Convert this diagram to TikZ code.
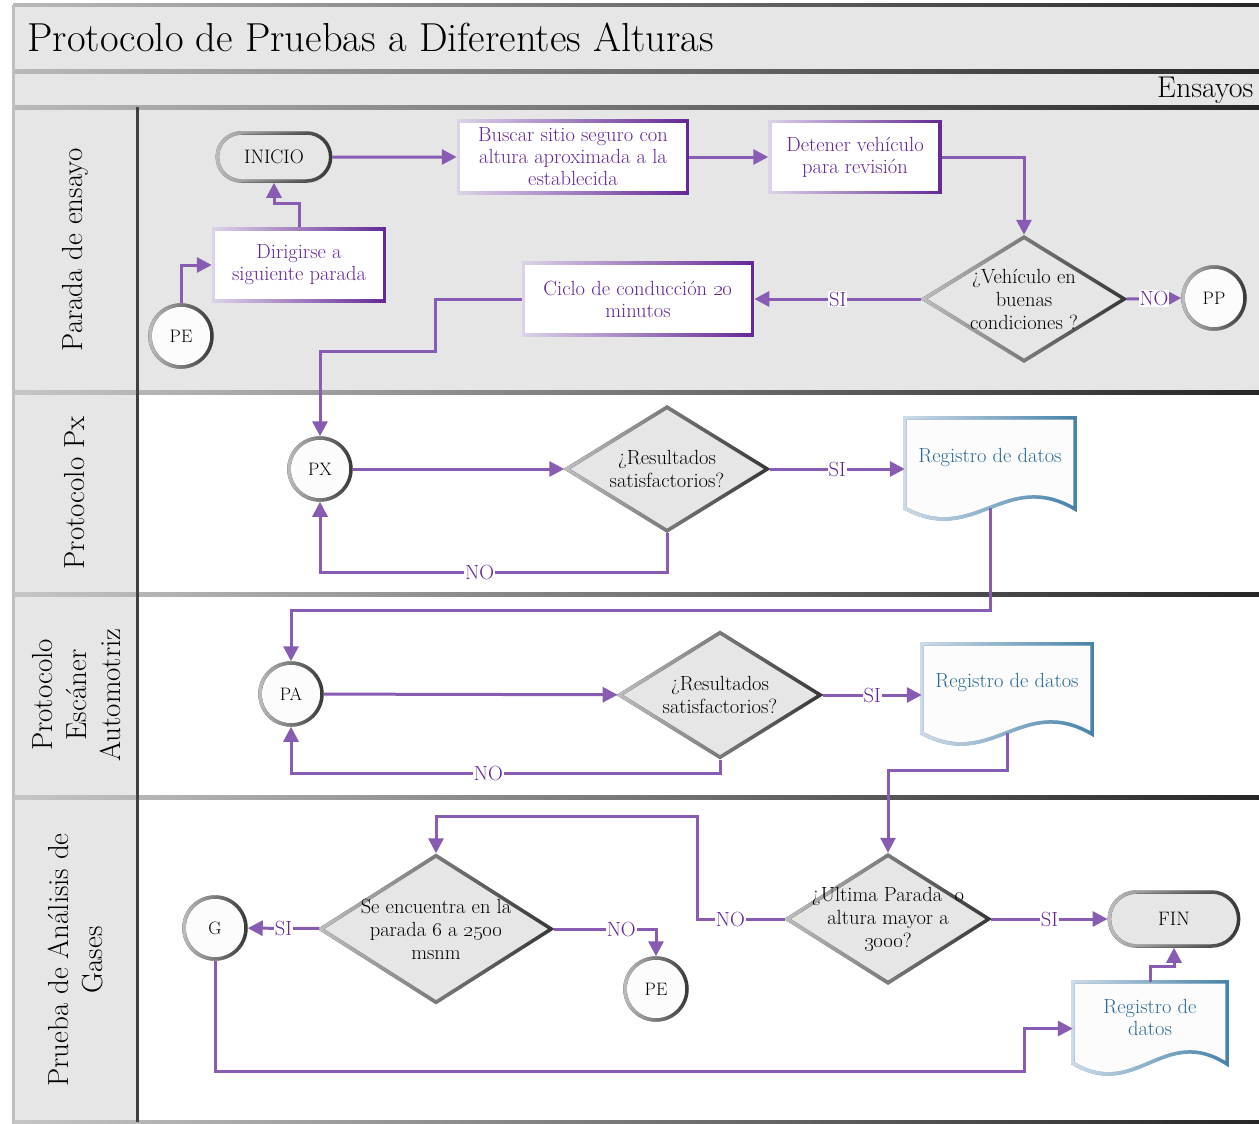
\documentclass[tikz,border=0pt]{standalone}
\usetikzlibrary{arrows.meta,shapes.geometric,shapes.misc,calc,fadings}

\definecolor{lanegray}{HTML}{E6E6E6}
\definecolor{flow}{RGB}{135,92,178}
\definecolor{ptext}{RGB}{98,38,148}
\definecolor{pdark}{RGB}{100,40,150}
\definecolor{plight}{RGB}{222,212,234}
\definecolor{gdark}{RGB}{55,55,55}
\definecolor{glight}{RGB}{190,190,190}
\definecolor{bdark}{RGB}{70,130,170}
\definecolor{blight}{RGB}{208,220,232}
\definecolor{btext}{RGB}{42,104,148}
\definecolor{paper}{RGB}{252,252,252}

\newcommand{\zl}[1]{\makebox[0pt][c]{#1}}

\tikzset{
  purpleedge/.style={draw=pdark, postaction={draw=plight, path fading=east}},
  grayedge/.style={draw=gdark, postaction={draw=glight, path fading=east}},
  blueedge/.style={draw=bdark, postaction={draw=blight, path fading=east}},
  procbox/.style={rectangle, fill=white, purpleedge, line width=3.5pt,
    text=ptext, align=center, inner sep=2pt},
  termbox/.style={rounded rectangle, fill=lanegray, grayedge, line width=3.5pt,
    minimum width=120pt, minimum height=48pt, text=black,
    font=\fontsize{19.5}{22}\selectfont},
  decbox/.style={diamond, fill=lanegray, grayedge, line width=3.5pt,
    inner sep=0pt, align=center, text=black,
    font=\fontsize{20.5}{23}\selectfont},
  conn/.style={circle, fill=paper, grayedge, line width=3.5pt,
    minimum size=62pt, inner sep=0pt, text=black,
    font=\fontsize{18}{20}\selectfont},
  docbox/.style={rectangle, draw=none, inner sep=0pt, text=btext, align=center},
  flowline/.style={draw=flow, line width=3pt,
    -{Triangle[length=15pt,width=15pt]}},
  lbl/.style={fill=white, text=ptext, inner sep=1pt},
  lanetitle/.style={rotate=90, align=center, text=black,
    font=\fontsize{29}{34}\selectfont},
}

% document outline with a wavy lower edge, built on a node's box
\newcommand{\docpath}[1]{%
  (#1.north west) -- (#1.north east) -- ($(#1.south east)+(0,1)$)
  .. controls ($(#1.south west)!0.59!(#1.south east)+(0,-40)$)
  and ($(#1.south west)!0.41!(#1.south east)+(0,38)$) .. (#1.south west) -- cycle}

\begin{document}
\begin{tikzpicture}[x=1pt, y=-1pt, font=\fontsize{20.5}{22}\selectfont]
\useasboundingbox (0,0) rectangle (1259,1124);
\fill[white] (0,0) rectangle (1259,1124);

% bands and lanes
\fill[lanegray] (13,5) rectangle (1259,107);
\fill[lanegray] (13,107) rectangle (1259,392);
\fill[lanegray] (13,392) rectangle (138,1122);

\shade[left color=gray!55, right color=black!85] (13,4) rectangle (1259,7);
\shade[left color=gray!55, right color=black!85] (13,70) rectangle (1259,74);
\shade[left color=gray!55, right color=black!85] (13,105) rectangle (1259,109);
\shade[left color=gray!45, right color=black!85] (13,390) rectangle (1259,394);
\shade[left color=gray!45, right color=black!85] (13,592) rectangle (1259,596);
\shade[left color=gray!45, right color=black!85] (13,795) rectangle (1259,799);
\shade[left color=gray!45, right color=black!85] (13,1120) rectangle (1259,1124);
\fill[gray!50] (12,5) rectangle (15,1124);
\fill[black!75] (136,107) rectangle (139,1122);

\node[anchor=base west, font=\fontsize{40.5}{44}\selectfont] (title) at (24,52)
  {Protocolo de Pruebas a Diferentes Alturas};
\node[anchor=base east, font=\fontsize{30}{32}\selectfont] (ensayos) at (1257,98) {Ensayos};

\node[lanetitle] (l1) at (75,250) {Parada de ensayo};
\node[lanetitle] (l2) at (75,493) {Protocolo Px};
\node[lanetitle] (l3) at (77,695) {Protocolo\\Escáner\\Automotriz};
\node[lanetitle] (l4) at (75,960) {Prueba de Análisis de\\Gases};

% lane 1: parada de ensayo
\node[termbox] (inicio) at (274,157) {INICIO};
\node[procbox, minimum width=229pt, minimum height=72pt] (buscar) at (573,157)
  {Buscar sitio seguro con\\altura aproximada a la\\establecida};
\node[procbox, minimum width=170pt, minimum height=71pt] (detener) at (855,157)
  {Detener vehículo\\para revisión};
\node[decbox, minimum width=202pt, minimum height=125pt] (dveh) at (1024,299)
  {\zl{¿Vehículo en}\\\zl{buenas}\\\zl{condiciones ?}};
\node[conn] (pp) at (1214,298) {PP};
\node[procbox, minimum width=229pt, minimum height=72pt] (ciclo) at (638,299)
  {Ciclo de conducción \oldstylenums{20}\\minutos};
\node[procbox, minimum width=171pt, minimum height=72pt] (dirigirse) at (299,265)
  {Dirigirse a\\siguiente parada};
\node[conn] (pe) at (181,336) {PE};

% lane 2: protocolo Px
\node[conn] (px) at (320,469) {PX};
\node[decbox, minimum width=202pt, minimum height=125pt] (dpx) at (667,469)
  {\zl{¿Resultados}\\\zl{satisfactorios?}};
\node[docbox, minimum width=170pt, minimum height=90pt] (reg1) at (990,463) {};
\draw[fill=paper, blueedge, line width=3.5pt] \docpath{reg1};
\node[text=btext] (reg1t) at (990,457) {Registro de datos};

% lane 3: protocolo escaner automotriz
\node[conn] (pa) at (291,694) {PA};
\node[decbox, minimum width=202pt, minimum height=126pt] (dpa) at (720,695)
  {\zl{¿Resultados}\\\zl{satisfactorios?}};
\node[docbox, minimum width=170pt, minimum height=89pt] (reg2) at (1007,688.5) {};
\draw[fill=paper, blueedge, line width=3.5pt] \docpath{reg2};
\node[text=btext] (reg2t) at (1007,682) {Registro de datos};

% lane 4: prueba de analisis de gases
\node[conn] (g) at (215,928) {G};
\node[decbox, minimum width=232pt, minimum height=148pt] (dpar) at (436,929)
  {\zl{Se encuentra en la}\\\zl{parada \oldstylenums{6} a \oldstylenums{2500}}\\\zl{msnm}};
\node[conn] (pe2) at (656,989) {PE};
\node[decbox, minimum width=203pt, minimum height=129pt] (dalt) at (888,919)
  {\zl{¿Ultima Parada\ \ o}\\\zl{altura mayor a}\\\zl{\oldstylenums{3000}?}};
\node[termbox, minimum width=136pt, minimum height=54pt] (fin) at (1174,919) {FIN};
\node[docbox, minimum width=154pt, minimum height=81pt] (reg3) at (1150,1022.5) {};
\draw[fill=paper, blueedge, line width=3.5pt] \docpath{reg3};
\node[text=btext, align=center] (reg3t) at (1150,1017) {Registro de\\datos};

% bend points
\coordinate (bendNo) at (697,816);
\coordinate (bendG) at (1024,1071);

% connectors
\draw[flowline] (inicio) -- (buscar);
\draw[flowline] (buscar) -- (detener);
\draw[flowline] (detener.east) -| (dveh.north);
\draw[flowline] (dveh.west) -- node[lbl]{SI} (ciclo.east);
\draw[flowline] (dveh.east) -- node[lbl]{NO} (pp.west);
\draw[flowline] (ciclo.west) -| (435,351) -| (px.north);
\draw[flowline] (pe.north) |- (dirigirse.west);
\draw[flowline] (dirigirse.north) -- ++(0,-24) -| (inicio.south);

\draw[flowline] (px) -- (dpx);
\draw[flowline] (dpx.east) -- node[lbl]{SI} (dpx.east -| reg1.west);
\draw[flowline] (dpx.south) -- ++(0,39) -| node[lbl, pos=0.27]{NO} (px.south);
\draw[flowline] (reg1.south) -- ++(0,102) -| (pa.north);

\draw[flowline] (pa) -- (dpa);
\draw[flowline] (dpa.east) -- node[lbl]{SI} (dpa.east -| reg2.west);
\draw[flowline] (dpa.south) -- ++(0,14) -| node[lbl, pos=0.27]{NO} (pa.south);
\draw[flowline] (reg2.south) -- ++(0,37) -| (dalt.north);

\draw[flowline] (dalt.west) -- node[lbl, pos=0.62]{NO} (dalt.west -| bendNo)
  -- (bendNo) -| (dpar.north);
\draw[flowline] (dalt) -- node[lbl]{SI} (fin);
\draw[flowline] (dpar) -- node[lbl]{SI} (g);
\draw[flowline] (dpar.east) -| node[lbl, pos=0.33]{NO} (pe2.north);
\draw[flowline] (g.south) |- (bendG) |- ($(reg3.west)+(0,6)$);
\draw[flowline] (reg3.north) -- ++(0,-15) -| (fin.south);
\end{tikzpicture}
\end{document}
